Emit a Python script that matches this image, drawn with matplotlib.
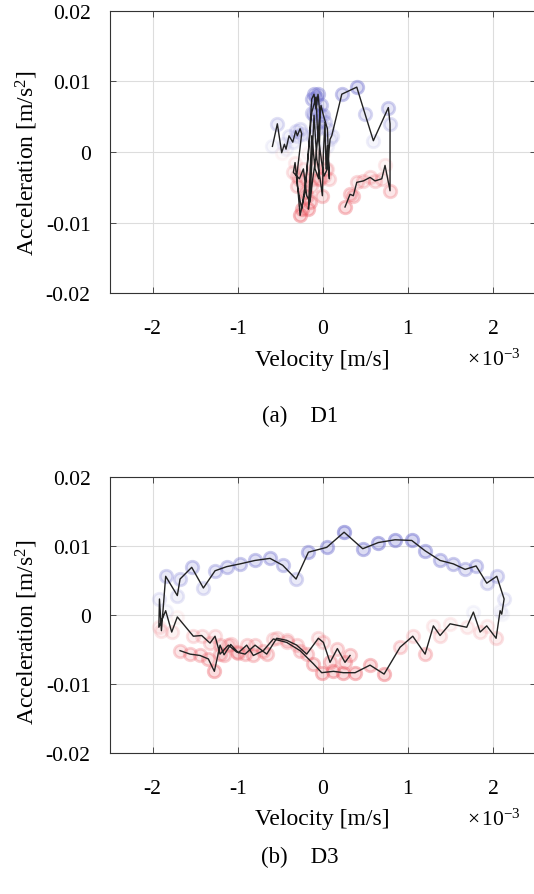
import matplotlib
matplotlib.use("Agg")
import matplotlib.pyplot as plt
import numpy as np

plt.rcParams['font.family'] = ['Liberation Serif', 'DejaVu Serif']
plt.rcParams['mathtext.fontset'] = 'custom'
plt.rcParams['mathtext.rm'] = 'Liberation Serif'
plt.rcParams['mathtext.it'] = 'Liberation Serif:italic'

# D1: velocity [1e-3 m/s], acceleration [m/s^2]
d1_vel = [
    -0.592, -0.534, -0.483, -0.451, -0.432, -0.397, -0.353, -0.318, -0.299, -0.267,
    -0.248, -0.306, -0.267, -0.209, -0.169, -0.130, -0.103, -0.079, -0.056, -0.032,
    -0.048, -0.091, -0.130, -0.169, -0.142, -0.103, -0.071, -0.032, -0.005, 0.007,
    0.026, 0.038, 0.054, 0.077, 0.054, 0.007, -0.021, -0.044, -0.079, -0.118,
    -0.150, -0.189, -0.228, -0.275, -0.346, -0.326, -0.299, -0.248, -0.197, -0.130,
    -0.079, -0.064, -0.013, 0.015, 0.054, 0.085, 0.105, 0.223, 0.399, 0.496,
    0.594, 0.770, 0.790, 0.790, 0.731, 0.693, 0.614, 0.555, 0.477, 0.399,
    0.359, 0.320, 0.261,
]
d1_acc = [
    0.0008, 0.0040, -0.0001, 0.0011, 0.0004, 0.0023, 0.0014, 0.0030, 0.0023, 0.0033,
    0.0026, -0.0034, -0.0090, -0.0057, -0.0001, 0.0075, 0.0082, 0.0061, 0.0082, 0.0052,
    -0.0038, -0.0024, 0.0023, -0.0081, -0.0048, 0.0052, -0.0010, -0.0038, -0.0062, -0.0001,
    0.0042, -0.0024, 0.0009, -0.0038, 0.0033, 0.0052, 0.0066, 0.0042, -0.0005, -0.0038,
    -0.0071, -0.0062, -0.0024, -0.0038, -0.0029, -0.0015, -0.0048, -0.0081, -0.0038, 0.0056,
    0.0078, 0.0033, -0.0015, -0.0034, -0.0024, 0.0018, 0.0023, 0.0082, 0.0092, 0.0054,
    0.0016, 0.0063, 0.0040, -0.0055, -0.0019, -0.0038, -0.0041, -0.0036, -0.0041, -0.0043,
    -0.0062, -0.0060, -0.0078,
]

# D3: velocity [1e-3 m/s], acceleration [m/s^2]
d3_vel = [
    -1.677, -1.560, -1.442, -1.345, -1.274, -1.207, -1.160, -1.082, -0.992, -0.894,
    -0.816, -0.698, -0.581, -0.424, -0.267, -0.111, -0.013, 0.124, 0.242, 0.379,
    0.555, 0.720, 0.908, 1.057, 1.202, 1.299, 1.378, 1.495, 1.691, 1.769,
    1.848, 1.926, 2.036, 2.083, 2.102, 2.130, 2.044, 1.926, 1.801, 1.672,
    1.534, 1.378, 1.202, 1.045, 0.849, 0.653, 0.469, 0.250, 0.046, -0.169,
    -0.314, -0.471, -0.620, -0.796, -0.972, -1.129, -1.266, -1.403, -1.540, -1.677,
    -1.709, -1.846, -1.896, -1.919, -1.926, -1.846, -1.775, -1.709, -1.521, -1.423,
    -1.325, -1.266, -1.207, -1.110, -1.012, -0.914, -0.796, -0.659, -0.541, -0.424,
    -0.306, -0.189, -0.052, 0.007, 0.085, 0.171, 0.261, 0.320,
]
d3_acc = [
    -0.0052, -0.0057, -0.0059, -0.0064, -0.0082, -0.0044, -0.0058, -0.0043, -0.0055, -0.0044,
    -0.0059, -0.0052, -0.0035, -0.0040, -0.0052, -0.0071, -0.0084, -0.0082, -0.0084, -0.0084,
    -0.0073, -0.0086, -0.0047, -0.0031, -0.0057, -0.0016, -0.0030, -0.0013, -0.0018, 0.0004,
    -0.0025, -0.0016, -0.0034, 0.0006, 0.0001, 0.0023, 0.0056, 0.0046, 0.0071, 0.0066,
    0.0074, 0.0079, 0.0093, 0.0108, 0.0109, 0.0105, 0.0096, 0.0120, 0.0098, 0.0091,
    0.0052, 0.0072, 0.0082, 0.0079, 0.0074, 0.0070, 0.0064, 0.0039, 0.0069, 0.0052,
    0.0028, 0.0056, -0.0023, 0.0023, -0.0018, 0.0006, -0.0025, -0.0003, -0.0031, -0.0030,
    -0.0041, -0.0031, -0.0057, -0.0044, -0.0054, -0.0057, -0.0044, -0.0057, -0.0034, -0.0037,
    -0.0044, -0.0057, -0.0034, -0.0040, -0.0069, -0.0049, -0.0069, -0.0059,
]

panels = [(d1_vel, d1_acc, '(a)    D1'), (d3_vel, d3_acc, '(b)    D3')]
x_ticks = [-2, -1, 0, 1, 2]
y_ticks = [-0.02, -0.01, 0, 0.01, 0.02]

fig = plt.figure(figsize=(5.34, 8.95), dpi=100)
ax_boxes = [[0.206, 0.6715, 0.797, 0.3151], [0.206, 0.158, 0.797, 0.3078]]
xlabel_y = [0.597, 0.084]
caption_y = [0.535, 0.042]
ylabel_y = [0.818, 0.294]

blue = np.array([0.40, 0.40, 0.80])
red = np.array([0.92, 0.32, 0.36])

for i, (vel, acc, cap) in enumerate(panels):
    ax = fig.add_axes(ax_boxes[i])
    vel = np.array(vel)
    acc = np.array(acc)
    for v, a in zip(vel, acc):
        c = blue if a > 0 else red
        al = 0.08 + 0.92 * min(abs(a) / 0.012, 1.0)
        ax.plot(v, a, 'o', ms=9, mfc=(*c, 0.28 * al), mec=(*c, 0.5 * al),
                mew=2.0, zorder=2)
    ax.plot(vel, acc, color='#222222', lw=1.0, zorder=3)

    ax.set_xlim(-2.5, 2.5)
    ax.set_ylim(-0.02, 0.02)
    ax.set_xticks(x_ticks)
    ax.set_xticklabels(['-2', '-1', '0', '1', '2'])
    ax.set_yticks(y_ticks)
    ax.set_yticklabels(['-0.02', '-0.01', '0', '0.01', '0.02'])
    ax.tick_params(direction='in', top=True, right=True, length=4, width=0.6,
                   labelsize=15.5, color='#333333')
    ax.tick_params(axis='x', pad=19)
    ax.tick_params(axis='y', pad=14)
    ax.grid(True, color='#dddddd', lw=0.8)
    ax.set_axisbelow(True)
    for s in ax.spines.values():
        s.set_linewidth(0.8)
        s.set_color('#333333')

    fig.text(0.603, xlabel_y[i], 'Velocity [m/s]', ha='center', va='center', fontsize=17)
    fig.text(0.925, xlabel_y[i], r'$\times\,10^{\mathregular{-3}}$', ha='center',
             va='center', fontsize=15.5)
    fig.text(0.05, ylabel_y[i], r'Acceleration [m/s$^{\mathregular{2}}$]', rotation=90,
             ha='center', va='center', fontsize=17)
    fig.text(0.562, caption_y[i], cap, ha='center', va='center', fontsize=16.5)

fig.savefig('out.png', dpi=100)
